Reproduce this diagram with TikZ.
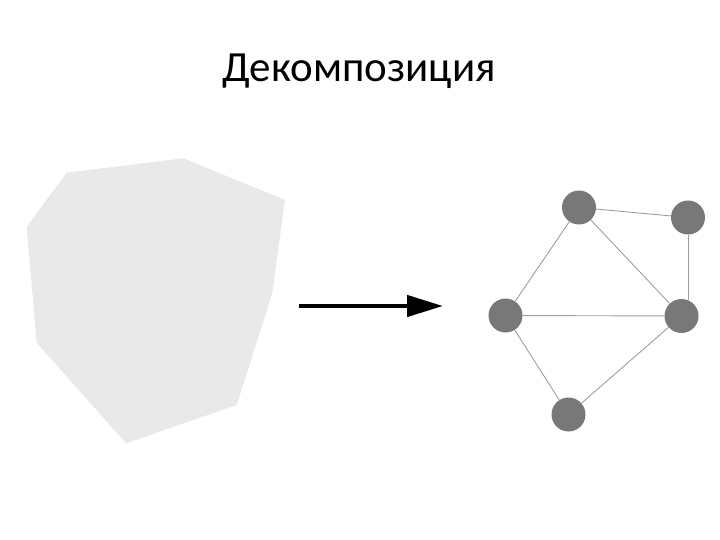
\documentclass[tikz,border=0pt]{standalone}
\usepackage{fontspec}
\setmainfont{Carlito}
\usetikzlibrary{arrows.meta}
\definecolor{vfill}{HTML}{787878}
\definecolor{efill}{HTML}{9E9E9E}
\definecolor{polyfill}{HTML}{E9E9E9}
\tikzset{
  vertex/.style={circle, fill=vfill, minimum size=34pt, inner sep=0pt},
  edge/.style={draw=efill, line width=0.9pt},
  bigarrow/.style={line width=4.5pt, -{Triangle[length=36pt,width=21pt]}}
}
\begin{document}
\begin{tikzpicture}[x=1pt,y=-1pt]
\useasboundingbox (0,0) rectangle (720,540);
\node[font=\fontsize{43}{50}\selectfont, anchor=base] (title) at (359,82) {Декомпозиция};
\fill[polyfill] (66.7,172.7) -- (183.3,158.3) -- (285,200) -- (272.3,293.3) -- (236.7,405) -- (126,443.3) -- (36.7,342.7) -- (26.7,226.7) -- cycle;
\coordinate (as) at (299,306);
\coordinate (ae) at (443,306);
\draw[bigarrow] (as) -- (ae);
\node[vertex] (t) at (579,207.5) {};
\node[vertex] (tr) at (688,217.5) {};
\node[vertex] (l) at (505.5,315.5) {};
\node[vertex] (r) at (681.5,316) {};
\node[vertex] (b) at (568.5,414.5) {};
\coordinate (rtop) at (688,300);
\draw[edge] (t) -- (tr);
\draw[edge] (t) -- (l);
\draw[edge] (t) -- (r);
\draw[edge] (tr) -- (rtop);
\draw[edge] (l) -- (r);
\draw[edge] (l) -- (b);
\draw[edge] (b) -- (r);
\end{tikzpicture}
\end{document}
